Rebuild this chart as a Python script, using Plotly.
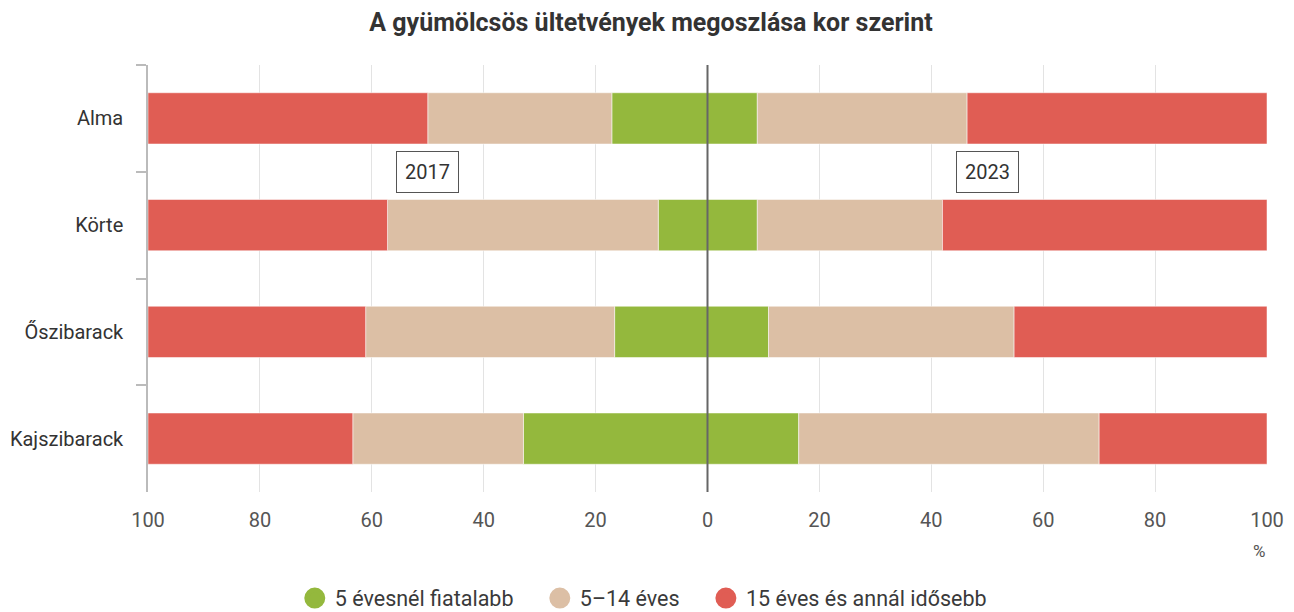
import plotly.graph_objects as go

categories = ["Alma", "Körte", "Őszibarack", "Kajszibarack"]
series_names = ["5 évesnél fiatalabb", "5–14 éves", "15 éves és annál idősebb"]
colors = ["#94b83d", "#dcbfa5", "#e05d54"]

# 2017 (left side), percentages
y2017_young = [17.1, 8.8, 16.6, 32.9]
y2017_mid = [32.9, 48.4, 44.5, 30.5]
y2017_old = [50.0, 42.8, 38.9, 36.6]

# 2023 (right side), percentages
y2023_young = [8.9, 8.9, 10.9, 16.3]
y2023_mid = [37.5, 33.1, 43.9, 53.7]
y2023_old = [53.6, 58.0, 45.2, 30.0]

tick_vals = [-100, -80, -60, -40, -20, 0, 20, 40, 60, 80, 100]
tick_text = ["100", "80", "60", "40", "20", "0", "20", "40", "60", "80", "100"]

data2017 = [y2017_young, y2017_mid, y2017_old]
data2023 = [y2023_young, y2023_mid, y2023_old]

fig = go.Figure()
for i in range(3):
    fig.add_trace(go.Bar(
        y=categories, x=[-v for v in data2017[i]], orientation="h",
        marker=dict(color=colors[i], line=dict(width=0.5, color="white")),
        name=series_names[i], showlegend=False, width=0.48,
        customdata=data2017[i],
        hovertemplate="2017<br>%{y}<br>" + series_names[i] + ": %{customdata:.1f}%<extra></extra>",
    ))
    fig.add_trace(go.Bar(
        y=categories, x=data2023[i], orientation="h",
        marker=dict(color=colors[i], line=dict(width=0.5, color="white")),
        name=series_names[i], showlegend=False, width=0.48,
        customdata=data2023[i],
        hovertemplate="2023<br>%{y}<br>" + series_names[i] + ": %{customdata:.1f}%<extra></extra>",
    ))

# legend entries with circle symbols
pad = "\u00a0" * 4
for i in range(3):
    fig.add_trace(go.Scatter(
        x=[None], y=[None], mode="markers",
        marker=dict(symbol="circle", size=16, color=colors[i],
                    line=dict(width=5, color=colors[i])),
        name=series_names[i] + (pad if i < 2 else ""), showlegend=True,
        hoverinfo="skip",
    ))

fig.add_vline(x=0, line=dict(color="#666666", width=2))

fig.add_annotation(x=-50, y=0.5, xref="x", yref="y", text="2017", showarrow=False,
                   font=dict(family="Roboto", size=20, color="#333333"),
                   bordercolor="#555555", borderwidth=1, borderpad=8, bgcolor="white")
fig.add_annotation(x=50, y=0.5, xref="x", yref="y", text="2023", showarrow=False,
                   font=dict(family="Roboto", size=20, color="#333333"),
                   bordercolor="#555555", borderwidth=1, borderpad=8, bgcolor="white")
fig.add_annotation(x=0.993, y=-0.138, xref="paper", yref="paper", text="%", showarrow=False,
                   xanchor="center", yanchor="middle",
                   font=dict(family="Roboto", size=17, color="#555555"))

fig.update_layout(
    width=1286, height=604,
    barmode="relative",
    bargap=0.52,
    paper_bgcolor="white", plot_bgcolor="white",
    margin=dict(l=140, r=27, t=57, b=120, autoexpand=False),
    title=dict(text="<b>A gyümölcsös ültetvények megoszlása kor szerint</b>",
               x=0.5, xanchor="center", y=0.977, yanchor="middle",
               font=dict(family="Roboto", size=25, color="#333333")),
    font=dict(family="Roboto", color="#555555"),
    legend=dict(orientation="h", xref="container", x=0.494, xanchor="center",
                yref="container", y=0.023, yanchor="middle",
                font=dict(family="Roboto", size=21.5, color="#3a3a3a"),
                itemsizing="trace", traceorder="normal"),
    xaxis=dict(range=[-100, 100], tickvals=tick_vals, ticktext=tick_text,
               showgrid=True, gridcolor="#e3e3e3", gridwidth=1, zeroline=False,
               showline=False, ticks="", ticklabelstandoff=14, automargin=False,
               tickfont=dict(family="Roboto", size=20, color="#555555"), fixedrange=True),
    yaxis=dict(categoryorder="array", categoryarray=categories, autorange="reversed",
               showline=True, linecolor="#bbbbbb", linewidth=1.5, automargin=False,
               ticks="outside", tickson="boundaries", ticklen=10, tickcolor="#bbbbbb",
               tickwidth=1.5, showgrid=False, ticklabelstandoff=19,
               tickfont=dict(family="Roboto", size=20, color="#333333")),
)

fig.write_html("out.html")
